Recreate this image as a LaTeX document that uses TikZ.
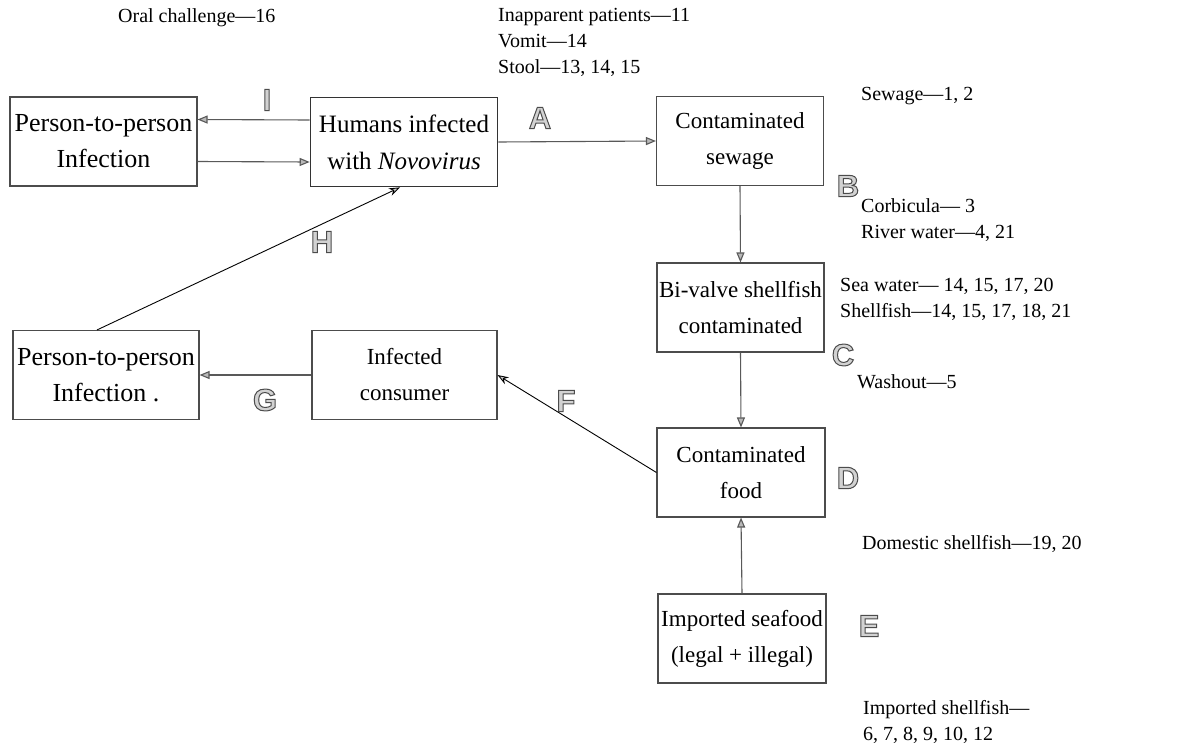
\documentclass[tikz,border=0pt]{standalone}
\usepackage{fontspec}
\setmainfont{Liberation Serif}
\newfontfamily\lettfont{Liberation Sans}
\usetikzlibrary{arrows.meta}
\newcommand{\olett}[1]{\special{pdf:code 2 Tr 1 w 0.3 G}#1\special{pdf:code 0 Tr}}
\begin{document}
\begin{tikzpicture}[x=1pt,y=1pt,
  box/.style={draw=black!70,line width=1.1pt,fill=white,inner sep=0pt,align=center,
    minimum width=#1,minimum height=89,font=\fontsize{23}{36}\selectfont},
  box/.default=187,
  conn/.style={draw=black!65,line width=1.1pt,-{Triangle[length=10pt,width=8pt,fill=gray!55]}},
  thinconn/.style={draw=black,line width=0.9pt,-{Stealth[length=11pt,width=8pt,open,fill=gray!40]}},
  lett/.style={text=gray!35,font=\lettfont\bfseries\fontsize{31}{31}\selectfont,inner sep=0pt},
  note/.style={anchor=west,inner sep=0pt,align=left,font=\fontsize{20}{26}\selectfont}]
\useasboundingbox (0,0) rectangle (1180,-755);
% boxes
\node[box=187,font=\fontsize{26}{36}\selectfont] (p2pa) at (103.5,-141.5) {Person-to-person\\Infection};
\node[box=187,line width=1.7pt,draw=black!80,font=\fontsize{25}{37}\selectfont] (hum) at (404,-142) {Humans infected\\with \textit{Novovirus}};
\node[box=167] (sew) at (740,-141) {Contaminated\\sewage};
\node[box=167] (biv) at (740.5,-307.5) {Bi-valve shellfish\\contaminated};
\node[box=168] (food) at (741,-472.5) {Contaminated\\food};
\node[box=168] (imp) at (742,-638.5) {Imported seafood\\(legal + illegal)};
\node[box=186,font=\fontsize{26}{36}\selectfont] (p2pb) at (106,-375) {Person-to-person\\Infection .};
\node[box=185] (cons) at (404.5,-375) {Infected\\consumer};
% connectors
\draw[conn] ([yshift=22]hum.west) -- ([yshift=22]p2pa.east);
\draw[conn] ([yshift=-20]p2pa.east) -- ([yshift=-20]hum.west);
\draw[conn] (hum.east) -- (sew.west);
\draw[conn] (sew.south) -- (biv.north);
\draw[conn] (biv.south) -- (food.north);
\draw[conn] (imp.north) -- (food.south);
\draw[thinconn] ([xshift=-9]p2pb.north) -- ([xshift=-4]hum.south);
\draw[thinconn] (food.west) -- (cons.east);
\draw[conn] (cons.west) -- (p2pb.east);
% letters
\node[lett] (lI) at (267,-100) {\olett{I}};
\node[lett] (lA) at (540,-118) {\olett{A}};
\node[lett] (lB) at (848,-186) {\olett{B}};
\node[lett] (lH) at (322,-242) {\olett{H}};
\node[lett] (lC) at (843,-355) {\olett{C}};
\node[lett] (lF) at (566,-401) {\olett{F}};
\node[lett] (lG) at (265,-400) {\olett{G}};
\node[lett] (lD) at (848,-478) {\olett{D}};
\node[lett] (lE) at (869,-626) {\olett{E}};
% notes
\node[note] (n1) at (118,-18) {Oral challenge---16};
\node[note,anchor=north west] (n2) at (498,-8) {Inapparent patients---11\\Vomit---14\\Stool---13, 14, 15};
\node[note] (n3) at (861,-96) {Sewage---1, 2};
\node[note,anchor=north west] (n4) at (861,-198) {Corbicula--- 3\\River water---4, 21};
\node[note,anchor=north west] (n5) at (840,-278) {Sea water--- 14, 15, 17, 20\\Shellfish---14, 15, 17, 18, 21};
\node[note] (n6) at (857,-382) {Washout---5};
\node[note] (n7) at (862,-544) {Domestic shellfish---19, 20};
\node[note,anchor=north west] (n8) at (863,-700) {Imported shellfish---\\6, 7, 8, 9, 10, 12};
\end{tikzpicture}
\end{document}
